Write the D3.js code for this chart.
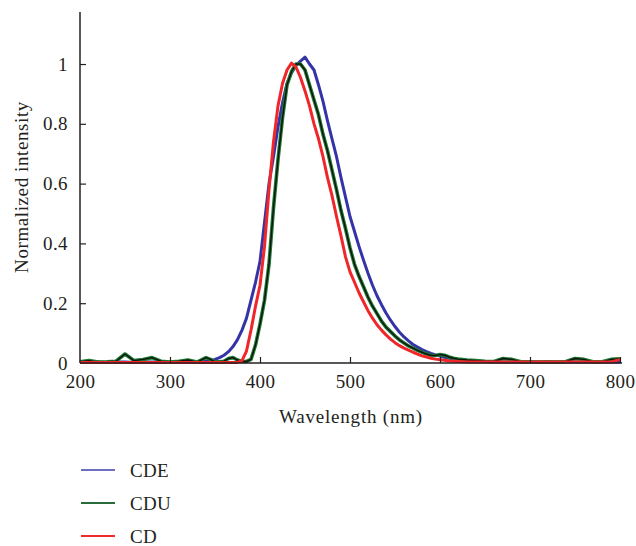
<!DOCTYPE html>
<html><head><meta charset="utf-8">
<script src="https://cdn.jsdelivr.net/npm/d3@7"></script>
<style>body{margin:0;background:#fff}svg{display:block}</style>
</head><body><svg id="c" width="636" height="546"></svg>
<script>
const wavelengths = [200,210,220,230,240,250,260,270,280,290,300,310,320,330,340,
345,350,355,360,365,370,375,380,385,390,395,400,405,410,415,420,425,430,435,440,445,450,455,460,465,470,475,480,485,490,495,500,505,510,515,520,525,530,535,540,545,550,555,560,565,570,575,580,585,590,595,600,605,610,615,620,
630,640,650,660,670,680,690,700,710,720,730,740,750,760,770,780,790,800];
const CDE = [0.004,0.003,0.003,0.002,0.003,0.003,0.002,0.003,0.003,0.002,0.003,0.003,0.004,0.004,0.006,
0.008,0.012,0.018,0.026,0.038,0.055,0.078,0.11,0.15,0.21,0.27,0.34,0.47,0.60,0.69,0.79,0.87,0.935,0.97,0.995,1.01,1.023,1.0,0.98,0.93,0.875,0.81,0.75,0.69,0.62,0.555,0.49,0.44,0.39,0.344,0.30,0.26,0.225,0.195,0.167,0.143,0.122,0.103,0.087,0.074,0.062,0.053,0.045,0.038,0.032,0.027,0.023,0.019,0.016,0.013,0.011,
0.008,0.006,0.005,0.004,0.003,0.003,0.003,0.003,0.003,0.003,0.003,0.003,0.003,0.003,0.003,0.003,0.003,0.003];
const CDU = [0.004,0.008,0.003,0.004,0.006,0.03,0.008,0.012,0.018,0.006,0.003,0.006,0.01,0.003,0.018,
0.012,0.004,0.004,0.006,0.015,0.018,0.01,0.005,0.005,0.012,0.06,0.13,0.21,0.33,0.52,0.68,0.82,0.93,0.975,1.0,1.0,0.98,0.93,0.88,0.83,0.765,0.71,0.645,0.58,0.51,0.45,0.385,0.33,0.29,0.255,0.22,0.19,0.165,0.14,0.12,0.105,0.09,0.077,0.067,0.057,0.05,0.042,0.036,0.03,0.026,0.025,0.028,0.026,0.02,0.016,0.013,
0.01,0.008,0.006,0.005,0.015,0.012,0.004,0.004,0.003,0.004,0.003,0.005,0.015,0.012,0.004,0.004,0.012,0.014];
const CD = [0.002,0.002,0.002,0.002,0.002,0.002,0.002,0.002,0.002,0.002,0.002,0.002,0.002,0.002,0.002,
0.002,0.002,0.002,0.002,0.002,0.002,0.002,0.008,0.04,0.11,0.19,0.26,0.39,0.58,0.74,0.86,0.935,0.98,1.003,0.99,0.955,0.91,0.86,0.80,0.75,0.69,0.62,0.56,0.49,0.425,0.355,0.305,0.27,0.235,0.205,0.175,0.15,0.128,0.11,0.094,0.08,0.068,0.058,0.05,0.043,0.036,0.03,0.024,0.02,0.016,0.013,0.011,0.009,0.007,0.006,0.005,
0.003,0.003,0.003,0.003,0.003,0.003,0.003,0.003,0.003,0.003,0.003,0.003,0.003,0.003,0.003,0.003,0.003,0.012];
const seriesNames = ["CDE","CDU","CD"];
const xTicks = [200,300,400,500,600,700,800];
const yTicks = [0,0.2,0.4,0.6,0.8,1];

const FONT = "'Liberation Serif', 'Times New Roman', Times, serif";
const FS = 19;
const svg = d3.select("#c");
const x = d3.scaleLinear().domain([200,800]).range([80,620]);
const y = d3.scaleLinear().domain([0,1.174]).range([363,12]);
const colors = {CDE:"#3434a8", CDU:"#1c7a30", CD:"#f0262a"};
const data = {CDE, CDU, CD};

const line = d3.line().x((d,i)=>x(wavelengths[i])).y(d=>y(d));

["CDE","CDU","CD"].forEach(name=>{
  svg.append("path").datum(data[name]).attr("d",line)
    .attr("fill","none").attr("stroke",colors[name])
    .attr("stroke-width", name==="CDU"?3.6:3).attr("stroke-linejoin","round");
  if(name==="CDU"){
    svg.append("path").datum(data[name]).attr("d",line)
      .attr("fill","none").attr("stroke","#111").attr("stroke-width",1.4).attr("stroke-linejoin","round");
  }
});

const xAxis = svg.append("g").attr("transform","translate(0,363)")
  .call(d3.axisBottom(x).tickValues(xTicks).tickSize(-6).tickPadding(12).tickFormat(d3.format("d")));
const yAxis = svg.append("g").attr("transform","translate(80,0)")
  .call(d3.axisLeft(y).tickValues(yTicks).tickSize(-6).tickPadding(12).tickFormat(d=>d===0?"0":d===1?"1":d3.format(".1f")(d)));
[xAxis,yAxis].forEach(g=>{
  g.attr("font-family", FONT).attr("font-size",FS);
  g.select(".domain").remove();
  g.selectAll(".tick line").attr("stroke","#231f20").attr("stroke-width",1.2);
  g.selectAll(".tick text").style("font-family", FONT).attr("font-size",FS).attr("fill","#231f20").attr("letter-spacing",0.4);
});
yAxis.selectAll(".tick").filter(d=>d===0).select("line").remove();
xAxis.selectAll(".tick").filter(d=>d===200).select("line").remove();
svg.append("line").attr("x1",x(200)).attr("x2",622).attr("y1",y(0)).attr("y2",y(0)).attr("stroke","#231f20").attr("stroke-width",1.5);
svg.append("line").attr("x1",x(200)).attr("x2",x(200)).attr("y1",y(0)).attr("y2",12).attr("stroke","#231f20").attr("stroke-width",1.5);

svg.append("text").attr("x",351).attr("y",423).attr("text-anchor","middle").attr("font-size",FS).attr("letter-spacing",0.8).style("font-family",FONT).attr("fill","#231f20").text("Wavelength (nm)");
svg.append("text").attr("transform","translate(28,187) rotate(-90)").attr("text-anchor","middle").attr("font-size",FS).attr("letter-spacing",0.6).style("font-family",FONT).attr("fill","#231f20").text("Normalized intensity");

seriesNames.forEach((name,i)=>{
  const yy = 470 + i*33;
  svg.append("line").attr("x1",81).attr("x2",115).attr("y1",yy).attr("y2",yy)
    .attr("stroke",name==="CDE"?"#6f6fc2":name==="CDU"?"#2a6b3c":"#ee2a2a").attr("stroke-width",2);
  svg.append("text").attr("x",130).attr("y",yy+6.5).attr("font-size",FS).attr("letter-spacing",0.3).style("font-family",FONT).attr("fill","#231f20").text(name);
});
</script></body></html>
